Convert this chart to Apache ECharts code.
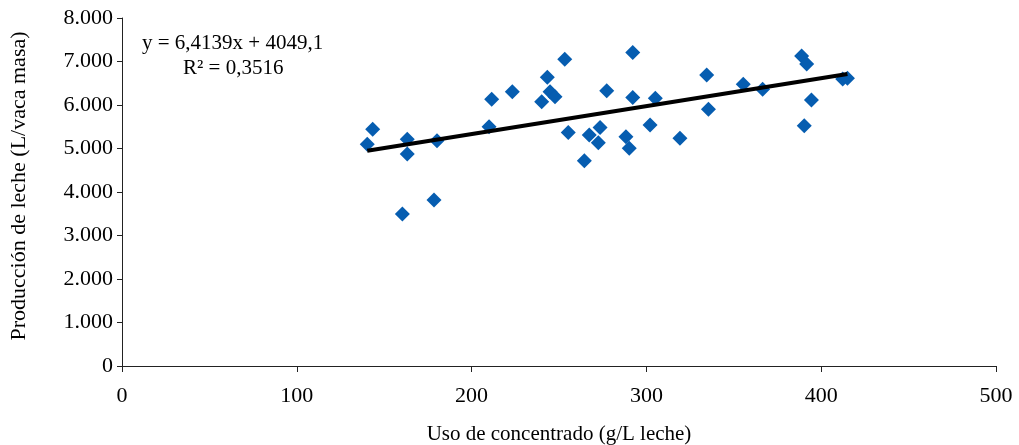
<!DOCTYPE html>
<html>
<head>
<meta charset="utf-8">
<script src="https://cdn.jsdelivr.net/npm/echarts@6/dist/echarts.min.js"></script>
<style>
  html, body {margin: 0; padding: 0; background: #fff;}
  #chart {width: 1019px; height: 445px;}
</style>
</head>
<body>
<div id="chart"></div>
<script>
// Producción de leche vs uso de concentrado, with linear trend line.

const concentrado = [
  143.4, 140.3, 163.2, 163.2, 180.2, 210.0, 178.5, 160.4, 211.5, 223.3,
  240.1, 243.3, 244.9, 247.7, 253.3, 255.3, 264.5, 267.3, 272.5, 273.5,
  277.3, 288.3, 290.2, 292.2, 292.2, 302.1, 305.1, 319.2, 334.5, 335.5,
  355.4, 366.5, 388.8, 391.7, 390.3, 394.4, 412.3, 415.0,
]
const produccion = [
  5440, 5095, 5210, 4875, 5180, 5500, 3815, 3495, 6130, 6305,
  6075, 6640, 6305, 6190, 7050, 5365, 4720, 5310, 5135, 5480,
  6330, 5270, 5005, 7205, 6170, 5540, 6155, 5235, 6690, 5905,
  6475, 6360, 7125, 6940, 5525, 6115, 6600, 6615,
]

// trend line y = slope * x + intercept, drawn over the data range
const slope = 6.4139
const intercept = 4049.1
const trendLabel = "y = 6,4139x + 4049,1"
const r2Label = "R² = 0,3516"

const FONT = "'Liberation Serif', 'Times New Roman', serif"
const AXIS_COLOR = "#222"

function thousands(v) {
  return String(v).replace(/\B(?=(\d{3})+(?!\d))/g, ".")
}

const points = concentrado.map((x, i) => [x, produccion[i]])
const xMin = Math.min(...concentrado)
const xMax = Math.max(...concentrado)
const trend = [xMin, xMax].map(x => [x, slope * x + intercept])

const chart = echarts.init(document.getElementById("chart"), null, {renderer: "canvas"})

chart.setOption({
  backgroundColor: "#fff",
  animation: false,
  grid: {left: 122, right: 23, top: 18, bottom: 79, outerBoundsMode: "none"},
  xAxis: {
    type: "value",
    min: 0,
    max: 500,
    interval: 100,
    name: "Uso de concentrado (g/L leche)",
    nameLocation: "middle",
    nameGap: 58,
    nameTextStyle: {fontFamily: FONT, fontSize: 21, color: "#000"},
    axisLine: {lineStyle: {color: AXIS_COLOR, width: 1}},
    axisTick: {show: true, inside: false, length: 6, lineStyle: {color: AXIS_COLOR}},
    axisLabel: {fontFamily: FONT, fontSize: 22, color: "#000", margin: 19},
    splitLine: {show: false},
  },
  yAxis: {
    type: "value",
    min: 0,
    max: 8000,
    interval: 1000,
    name: "Producción de leche (L/vaca masa)",
    nameLocation: "middle",
    nameGap: 92,
    nameTextStyle: {fontFamily: FONT, fontSize: 22, color: "#000", padding: [0, 0, 0, 12]},
    axisLine: {show: true, lineStyle: {color: AXIS_COLOR, width: 1}},
    axisTick: {show: true, inside: false, length: 5, lineStyle: {color: AXIS_COLOR}},
    axisLabel: {
      fontFamily: FONT,
      fontSize: 22,
      color: "#000",
      margin: 9,
      formatter: v => thousands(v),
    },
    splitLine: {show: false},
  },
  graphic: [
    {
      type: "text",
      left: 142,
      top: 33,
      style: {text: trendLabel, font: "21px " + FONT, fill: "#000"},
    },
    {
      type: "text",
      left: 183,
      top: 58,
      style: {text: r2Label, font: "21px " + FONT, fill: "#000"},
    },
  ],
  series: [
    {
      type: "scatter",
      data: points,
      symbol: "diamond",
      symbolSize: 15,
      itemStyle: {color: "#065db0", opacity: 1},
      z: 2,
    },
    {
      type: "line",
      data: trend,
      symbol: "none",
      lineStyle: {color: "#000", width: 4},
      z: 3,
    },
  ],
})
</script>
</body>
</html>
